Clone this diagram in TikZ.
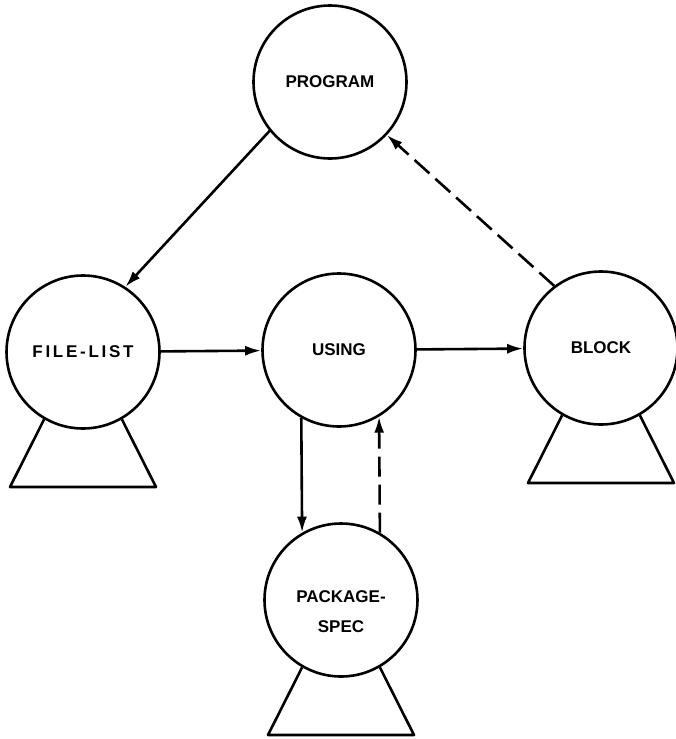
\documentclass[tikz,border=0pt]{standalone}
\usepackage{fontspec}
\setmainfont{Liberation Sans}
\usetikzlibrary{arrows.meta,calc}
\begin{document}
\begin{tikzpicture}[x=1pt,y=-1pt,
  line width=2.6pt,
  state/.style={draw,circle,minimum size=153pt,inner sep=0pt,
    font=\bfseries\fontsize{17}{30}\selectfont,align=center},
  flow/.style={-{Latex[length=16pt,width=10pt]}},
  back/.style={flow,dash pattern=on 20pt off 8pt}]
  \useasboundingbox (0,0) rectangle (676,739);

  % the five constructs
  \node[state] (prog)  at (330,82)  {PROGRAM};
  \node[state] (fl)    at (83,352)  {\addfontfeatures{LetterSpace=16}FILE-LIST};
  \node[state] (using) at (339,350) {USING};
  \node[state] (block) at (601,348) {BLOCK};
  \node[state,label={[font=\bfseries\fontsize{17}{30}\selectfont,
      align=center,yshift=-12pt]center:PACKAGE-\\SPEC}] (pkg) at (341,600) {};

  % stands under the repeating constructs
  \foreach \n in {fl,block,pkg}
    \draw[line join=round] (\n.240) -- ($(\n.center)+(-73,135)$)
      -- ($(\n.center)+(73,135)$) -- (\n.300);

  % solid connectors
  \draw[flow] (prog.219) -- (fl.57);
  \draw[flow] (fl) -- (using);
  \draw[flow] (using) -- (block);
  \draw[flow] (using.241) -- (pkg.120);

  % dashed return connectors
  \draw[back] (pkg.60) -- (using.301);
  \draw[back] (block.127) -- (prog.-43);
\end{tikzpicture}
\end{document}
